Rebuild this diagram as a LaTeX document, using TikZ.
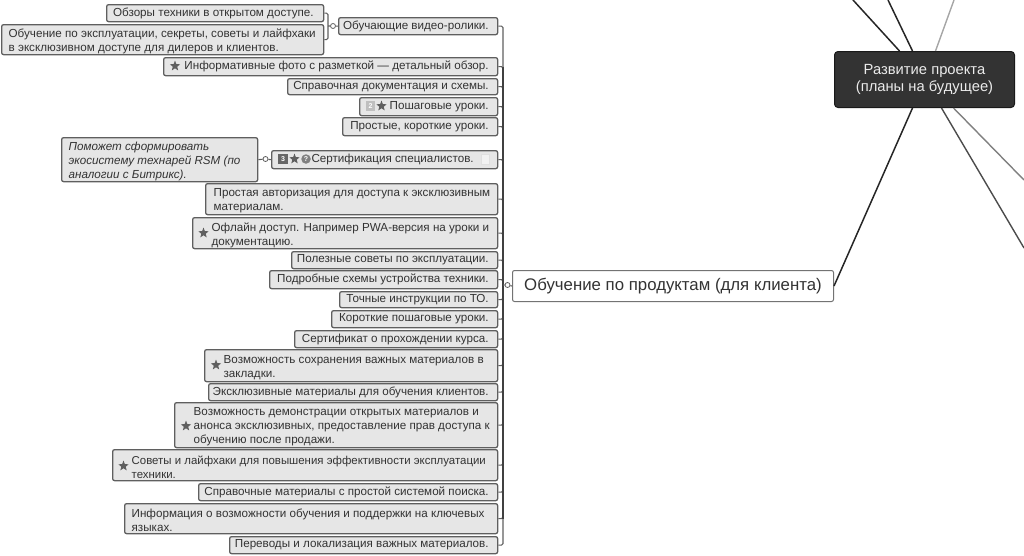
\documentclass[tikz,border=0pt]{standalone}
\usepackage{fontspec}
\setmainfont{Liberation Sans}
\usetikzlibrary{shapes.geometric}
\definecolor{txt}{HTML}{333333}
\definecolor{edge}{HTML}{5F5F5F}
\definecolor{lite}{HTML}{E6E6E6}
\tikzset{
  x=1pt,y=-1pt,
  itembox/.style={draw=edge,fill=lite,line width=1.3pt,rounded corners=2pt,inner sep=0pt,anchor=north west,text=txt,font=\fontsize{11.65}{14}\selectfont},
  conn/.style={draw=edge,line width=1.1pt,rounded corners=1.5pt},
  blackline/.style={draw=black!85,line width=1.5pt},
  fold/.style={circle,draw=edge,fill=white,line width=0.8pt,minimum size=5pt,inner sep=0pt},
  staricon/.style={star,star points=5,star point ratio=2.4,fill=edge,minimum size=11pt,inner sep=0pt},
  numicon/.style={rectangle,minimum size=9.5pt,inner sep=0pt,text=white,font=\fontsize{7}{7}\bfseries\selectfont},
}
\newcommand{\boxone}[7]{%
  \pgfmathsetmacro\wid{#4-#2}\pgfmathsetmacro\hei{#5-#3}%
  \node[itembox,minimum width=\wid pt,minimum height=\hei pt] (#1) at (#2,#3)
   {\lower0.6pt\hbox to \wid pt{\hss #7\hspace*{#6pt}}};}
\newcommand{\boxmulti}[7]{%
  \pgfmathsetmacro\wid{#4-#2}\pgfmathsetmacro\hei{#5-#3}%
  \node[itembox,minimum width=\wid pt,minimum height=\hei pt] (#1) at (#2,#3)
   {\parbox{\wid pt}{\hbadness=10000\hfuzz=40pt\leftskip=#6pt\rightskip=-30pt plus 1fil\parfillskip=0pt\baselineskip=14pt\vspace*{3.5pt}#7}};}
\begin{document}
\begin{tikzpicture}
\useasboundingbox (0,0) rectangle (1024,555);
% items
\boxone{a}{106}{4}{323}{21}{10}{Обзоры техники в открытом доступе.}
\boxmulti{b}{1}{24}{323}{54}{7}{Обучение по эксплуатации, секреты, советы и лайфхаки\\в эксклюзивном доступе для дилеров и клиентов.}
\boxone{c}{338}{17}{497}{34}{9}{Обучающие видео-ролики.}
\boxone{d}{163}{57}{497}{75}{9}{Информативные фото с разметкой — детальный обзор.}
\boxone{e}{287}{78}{497}{94}{9}{Справочная документация и схемы.}
\boxone{f}{359}{97}{497}{115}{9}{Пошаговые уроки.}
\boxone{g}{342}{117}{497}{135}{9}{Простые, короткие уроки.}
\boxone{h}{271}{150}{497}{168}{24}{Сертификация специалистов.}
\boxmulti{i}{61}{137}{257}{181}{7}{\itshape Поможет сформировать\\экосистему технарей RSM (по\\аналогии с Битрикс).}
\boxmulti{j}{205}{183}{497}{214}{8}{Простая авторизация для доступа к эксклюзивным\\материалам.}
\boxmulti{k}{192}{217}{497}{248}{19}{Офлайн доступ. Например PWA-версия на уроки и\\документацию.}
\boxone{l}{291}{251}{497}{268}{9}{Полезные советы по эксплуатации.}
\boxone{m}{269}{270}{497}{288}{9}{Подробные схемы устройства техники.}
\boxone{n}{339}{291}{497}{307}{9}{Точные инструкции по ТО.}
\boxone{o}{331}{310}{497}{327}{9}{Короткие пошаговые уроки.}
\boxone{p}{294}{330}{497}{347}{9}{Сертификат о прохождении курса.}
\boxmulti{q}{204}{349}{497}{381}{19}{Возможность сохранения важных материалов в\\закладки.}
\boxone{r}{208}{383}{497}{400}{9}{Эксклюзивные материалы для обучения клиентов.}
\boxmulti{s}{174}{402}{497}{447}{19}{Возможность демонстрации открытых материалов и\\анонса эксклюзивных, предоставление прав доступа к\\обучению после продажи.}
\boxmulti{t}{112}{449}{497}{480}{19}{\fontsize{11.43}{14}\selectfont Советы и лайфхаки для повышения эффективности эксплуатации\\техники.}
\boxone{u}{198}{483}{497}{500}{9}{Справочные материалы с простой системой поиска.}
\boxmulti{v}{124}{503}{497}{533}{7}{Информация о возможности обучения и поддержки на ключевых\\языках.}
\boxone{w}{229}{536}{497}{553}{9}{Переводы и локализация важных материалов.}
% icons
\node[staricon] (s1) at (175,66) {};
\node[numicon,fill=black!25] (n1) at (370.5,106) {2};
\node[staricon] (s2) at (381.5,106) {};
\node[numicon,fill=black!60] (n2) at (283,159) {3};
\node[staricon] (s3) at (294.5,159) {};
\node[circle,fill=black!50,text=white,minimum size=9.5pt,inner sep=0pt,font=\fontsize{7}{7}\bfseries\selectfont] (q1) at (306,159) {?};
\draw[draw=black!12,fill=black!5] (481,154) rectangle (489,164);
\node[staricon] (s4) at (203.5,233) {};
\node[staricon] (s5) at (216,365) {};
\node[staricon] (s6) at (186,426) {};
\node[staricon] (s7) at (123.5,466) {};
% main nodes
\node[draw=black!55,fill=white,line width=1pt,rounded corners=2pt,minimum width=321pt,minimum height=31pt,inner sep=0pt,anchor=north west,text=txt,font=\fontsize{16.8}{18}\selectfont] (prod) at (512,270) {Обучение по продуктам (для клиента)};
\node[draw=black!90,fill=black!80,line width=1pt,rounded corners=3.5pt,minimum width=180pt,minimum height=56pt,inner sep=0pt,anchor=north west,text=white!92!black,align=center,font=\fontsize{14.75}{16.5}\selectfont] (dev) at (834,51) {Развитие проекта\\(планы на будущее)};
% connectors
\coordinate (hub) at (503,285);
\coordinate (top1) at (888,0);
\coordinate (top2) at (853,0);
\coordinate (top3) at (954,0);
\coordinate (right1) at (1024,248);
\coordinate (right2) at (1024,180);
\foreach \c in {c,d,e,f,g,h,j,k,l,m,n,o,p,q,r,s,t,u,v,w}{\draw[conn] (\c.east) -| (hub);}
\draw[draw=black!75,line width=1.4pt] (d.east -| hub) -- (v.east -| hub);
\draw[conn] (a.east) -| (328,26) coordinate (br);
\draw[conn] (b.east) -| (br);
\node[fold] (f1) at (333,26) {};
\draw[conn] (br) -- (f1) -- (c.west);
\node[fold] (f2) at (265.5,159) {};
\draw[conn] (i.east) -- (f2) -- (h.west);
\node[fold] (f3) at (507.5,285) {};
\draw[conn] (hub) -- (f3) -- (prod.west);
\draw[blackline] (prod.east) -- ([xshift=-12pt]dev.south);
\draw[blackline] ([xshift=-12pt]dev.north) -- (top1);
\draw[blackline] ([xshift=-25pt]dev.north) -- (top2);
\draw[draw=black!35,line width=1.4pt] ([xshift=11pt]dev.north) -- (top3);
\draw[draw=black!70,line width=1.4pt] ([xshift=17pt]dev.south) -- (right1);
\draw[draw=black!50,line width=1.4pt] ([xshift=29pt]dev.south) -- (right2);
\end{tikzpicture}
\end{document}
